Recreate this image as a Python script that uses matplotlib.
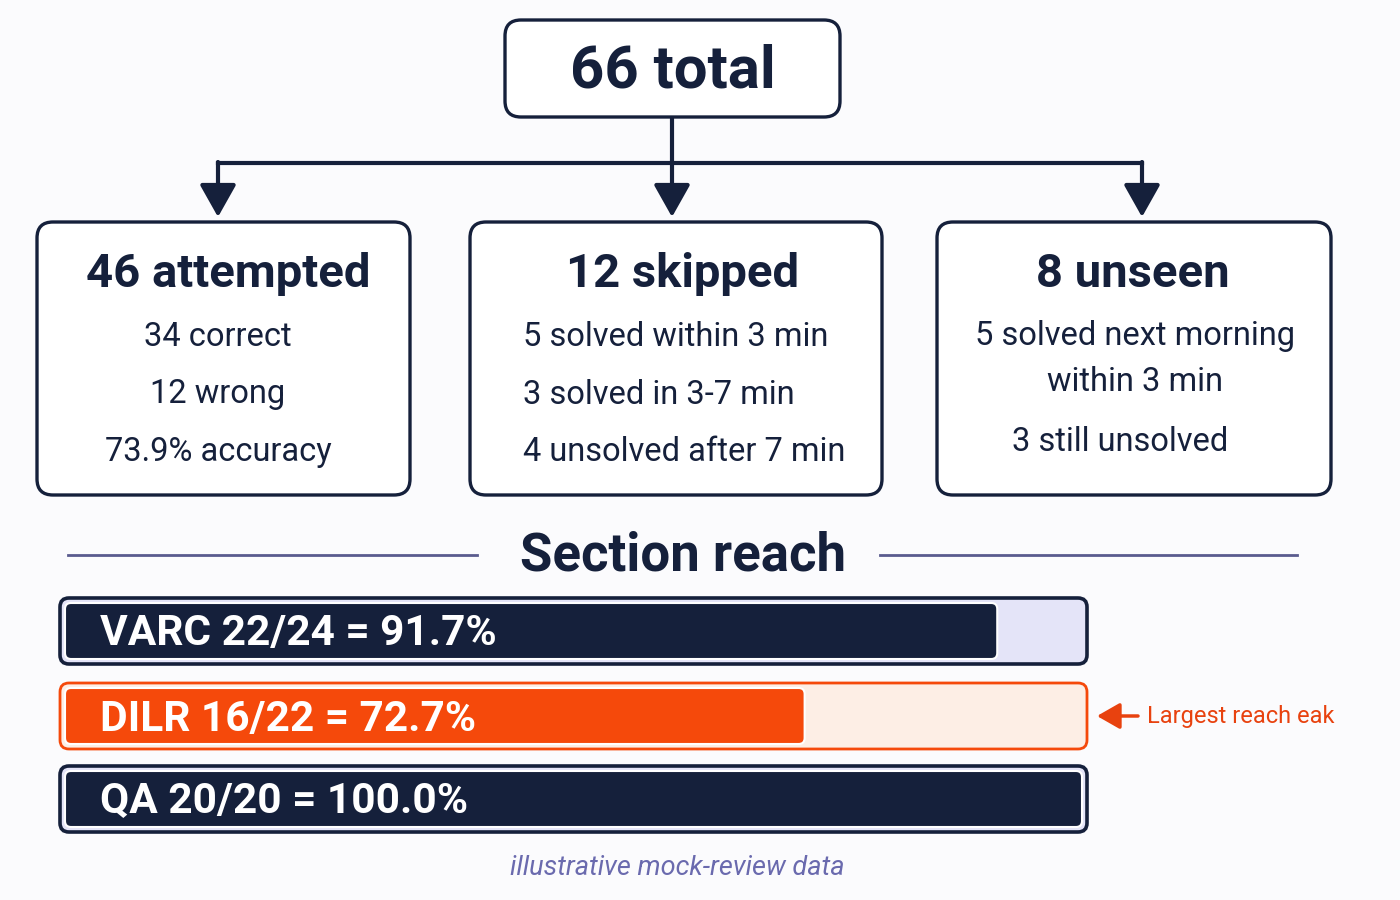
import matplotlib.pyplot as plt
from matplotlib.patches import FancyBboxPatch

# data
total = 66
groups = ['46 attempted', '12 skipped', '8 unseen']
group_lines = [
    ['34 correct', '12 wrong', '73.9% accuracy'],
    ['5 solved within 3 min', '3 solved in 3-7 min', '4 unsolved after 7 min'],
    ['5 solved next morning\nwithin 3 min', '3 still unsolved'],
]
sections = ['VARC', 'DILR', 'QA']
reached = [22, 16, 20]
questions = [24, 22, 20]
highlight = 'DILR'
note = 'Largest reach eak'
footer = 'illustrative mock-review data'

navy = '#15203b'
orange = '#f5490b'
bg = '#fbfbfd'

plt.rcParams['font.family'] = ['Roboto', 'DejaVu Sans']

fig = plt.figure(figsize=(14, 9), dpi=100, facecolor=bg)
ax = fig.add_axes([0, 0, 1, 1])
ax.set_xlim(0, 1400)
ax.set_ylim(900, 0)
ax.axis('off')
ax.set_zorder(3)


def rbox(x0, y0, x1, y1, r, **kw):
    p = FancyBboxPatch((x0, y0), x1 - x0, y1 - y0,
                       boxstyle=f'round,pad=0,rounding_size={r}', **kw)
    ax.add_patch(p)
    return p


# top box
rbox(505, 20, 840, 117, 16, fc='white', ec=navy, lw=2.4)
ax.text(673, 71, f'{total} total', ha='center', va='center',
        fontsize=43, fontweight='bold', color=navy)

# connectors
ax.plot([672, 672], [117, 163], color=navy, lw=3, solid_capstyle='butt')
ax.plot([218, 1142], [163, 163], color=navy, lw=3, solid_capstyle='projecting')
for x in [218, 672, 1142]:
    ax.annotate('', xy=(x, 217), xytext=(x, 162),
                arrowprops=dict(arrowstyle='-|>,head_length=0.8,head_width=0.45',
                                mutation_scale=25, lw=3, color=navy,
                                shrinkA=0, shrinkB=0))

# group boxes
boxes = [(37, 410), (470, 882), (937, 1331)]
title_x = [228, 683, 1133]
for i, ((x0, x1), title) in enumerate(zip(boxes, groups)):
    rbox(x0, 222, x1, 495, 16, fc='white', ec=navy, lw=2.4)
    ax.text(title_x[i], 274, title, ha='center', va='center',
            fontsize=34, fontweight='bold', color=navy)

# box 1 lines, centered
for j, s in enumerate(group_lines[0]):
    ax.text(218, 337 + j * 57.5, s, ha='center', va='center',
            fontsize=23.5, color=navy)
# box 2 lines, left aligned
for j, s in enumerate(group_lines[1]):
    ax.text(523, 337 + j * 57.5, s, ha='left', va='center',
            fontsize=23.5, color=navy)
# box 3 lines
ax.text(1135, 359, group_lines[2][0], ha='center', va='center',
        fontsize=23.5, color=navy, linespacing=1.55)
ax.text(1120, 442, group_lines[2][1], ha='center', va='center',
        fontsize=23.5, color=navy)

# section header
ax.plot([68, 477], [555, 555], color='#5a5b8e', lw=2)
ax.plot([880, 1297], [555, 555], color='#5a5b8e', lw=2)
ax.text(683, 556, 'Section reach', ha='center', va='center',
        fontsize=38, fontweight='bold', color=navy)

# bars in their own axes: x in percent, y in pixels
bx0, bx1 = 60, 1087
pad_units = 5 / ((bx1 - bx0 - 10) / 100)
bax = fig.add_axes([bx0 / 1400, 1 - 840 / 900, (bx1 - bx0) / 1400, 250 / 900])
bax.set_xlim(-pad_units, 100 + pad_units)
bax.set_ylim(840, 590)
bax.axis('off')
bax.set_zorder(1)
px_per_unit = (bx1 - bx0) / (100 + 2 * pad_units)

centers = [631, 716, 799]
pcts = [r / q * 100 for r, q in zip(reached, questions)]
for name, r, q, p, yc in zip(sections, reached, questions, pcts, centers):
    hot = name == highlight
    edge = orange if hot else navy
    track = '#fdeee5' if hot else '#e4e4f8'
    fill = orange if hot else navy
    h = 66
    bax.add_patch(FancyBboxPatch(
        (-pad_units, yc - h / 2), 100 + 2 * pad_units, h,
        boxstyle=f'round,pad=0,rounding_size={9 / px_per_unit}',
        mutation_aspect=px_per_unit, fc=track, ec=edge,
        lw=2.0 if hot else 2.6, clip_on=False))
    ih = h - 10
    bax.add_patch(FancyBboxPatch(
        (0, yc - ih / 2), p, ih,
        boxstyle=f'round,pad=0,rounding_size={6 / px_per_unit}',
        mutation_aspect=px_per_unit, fc=fill, ec='white', lw=1.5,
        clip_on=False))
    ax.text(100, yc + 3, f'{name} {r}/{q} = {p:.1f}%', ha='left', va='center',
            fontsize=30.5, fontweight='bold', color='white')

# annotation
ax.annotate('', xy=(1097, 716), xytext=(1138, 716),
            arrowprops=dict(arrowstyle='-|>,head_length=0.7,head_width=0.4',
                            mutation_scale=20, lw=2.5, color='#e8420f',
                            shrinkA=0, shrinkB=0))
ax.text(1147, 717, note, ha='left', va='center', fontsize=17,
        color='#e8420f')

ax.text(677, 868, footer, ha='center', va='center', fontsize=19.5,
        style='italic', color='#6a6aae')

fig.savefig('out.png', dpi=100, facecolor=bg)
